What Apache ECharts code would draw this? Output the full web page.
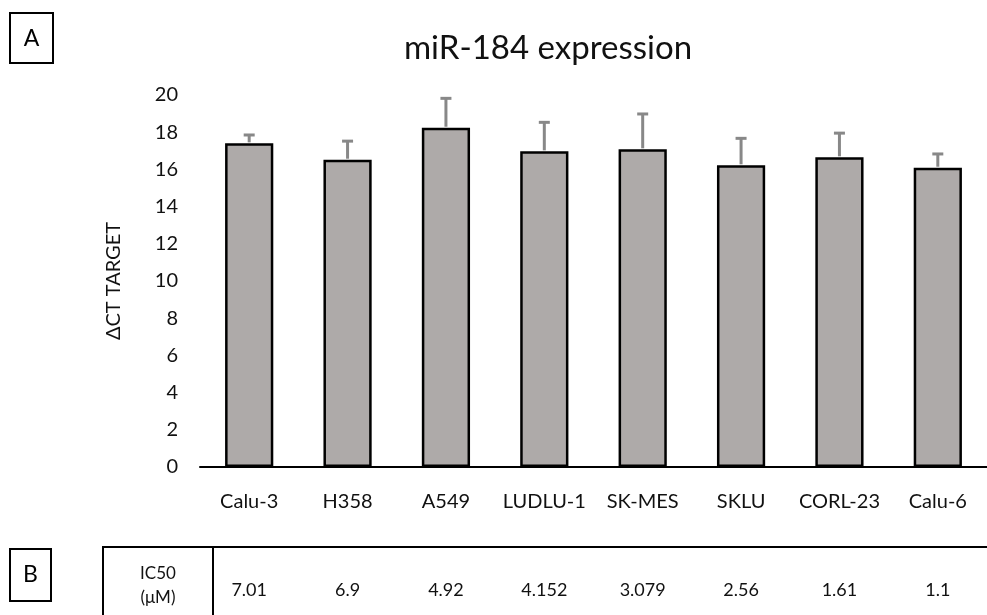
<!DOCTYPE html>
<html><head><meta charset="utf-8">
<script src="https://cdn.jsdelivr.net/npm/echarts@6/dist/echarts.min.js"></script>
<style>html,body{margin:0;padding:0;background:#fff}#c{width:987px;height:615px}</style>
</head><body><div id="c"></div>
<script>
const categories = ['Calu-3','H358','A549','LUDLU-1','SK-MES','SKLU','CORL-23','Calu-6'];
const deltaCT = [17.4, 16.52, 18.24, 16.97, 17.08, 16.22, 16.65, 16.09];
const errors = [0.45, 1.0, 1.58, 1.56, 1.9, 1.45, 1.3, 0.74];
const ic50 = ['7.01','6.9','4.92','4.152','3.079','2.56','1.61','1.1'];
const yTicks = [0,2,4,6,8,10,12,14,16,18,20];

const FONT = 'Lato, "Open Sans", sans-serif';
const chart = echarts.init(document.getElementById('c'), null, {renderer:'canvas'});
chart.setOption({
  animation:false,
  title:{text:'miR-184 expression', left:543, top:27, textAlign:'center',
    textStyle:{fontFamily:FONT, fontSize:33, fontWeight:'normal', color:'#111'}},
  grid:[{left:200, right:-6, top:95, height:372},
        {left:200, right:-6, top:589, height:1}],
  xAxis:[{type:'category', data:categories, gridIndex:0,
      axisLine:{lineStyle:{color:'#000', width:2}},
      axisTick:{show:false},
      axisLabel:{color:'#111', fontSize:20, fontFamily:FONT, margin:25, interval:0}},
    {type:'category', data:ic50, gridIndex:1,
      axisLine:{show:false}, axisTick:{show:false},
      axisLabel:{color:'#111', fontSize:18, fontFamily:FONT, margin:0, verticalAlign:'middle', interval:0}}],
  yAxis:[{type:'value', min:0, max:20, interval:2, gridIndex:0,
      name:'ΔCT TARGET', nameLocation:'middle', nameGap:76, nameRotate:90,
      nameTextStyle:{color:'#111', fontSize:20, fontFamily:FONT},
      axisLine:{show:false}, axisTick:{show:false}, splitLine:{show:false},
      axisLabel:{color:'#111', fontSize:20, fontFamily:FONT, margin:22,
        formatter:v=>yTicks.includes(v)?String(v):''}},
    {type:'value', gridIndex:1, show:false}],
  series:[{type:'bar', data:deltaCT, barWidth:'49%', xAxisIndex:0, yAxisIndex:0,
      itemStyle:{color:'#aeaaa9', borderColor:'#000', borderWidth:2.5}, z:2},
    {type:'custom', xAxisIndex:0, yAxisIndex:0, z:3,
      data:deltaCT.map((v,i)=>[i,v,errors[i]]),
      renderItem:function(params, api){
        const i=api.value(0), v=api.value(1), e=api.value(2);
        const p0=api.coord([i,v]); const p1=api.coord([i,v+e]);
        const cap=5.5;
        const st={stroke:'#888', lineWidth:3};
        return {type:'group', children:[
          {type:'line', shape:{x1:p0[0],y1:p0[1]-1,x2:p1[0],y2:p1[1]}, style:st},
          {type:'line', shape:{x1:p1[0]-cap,y1:p1[1],x2:p1[0]+cap,y2:p1[1]}, style:st}
        ]};
      }}],
  graphic:[
    {type:'rect', shape:{x:10,y:13,width:43,height:50}, style:{fill:'none', stroke:'#000', lineWidth:2}},
    {type:'text', x:31.5, y:39, style:{text:'A', fontSize:23, fontFamily:FONT, fill:'#000', align:'center', verticalAlign:'middle'}},
    {type:'rect', shape:{x:10,y:549,width:41,height:52}, style:{fill:'none', stroke:'#000', lineWidth:2}},
    {type:'text', x:30.5, y:575, style:{text:'B', fontSize:23, fontFamily:FONT, fill:'#000', align:'center', verticalAlign:'middle'}},
    {type:'line', shape:{x1:103,y1:547,x2:987,y2:547}, style:{stroke:'#000', lineWidth:2}},
    {type:'line', shape:{x1:103,y1:546,x2:103,y2:615}, style:{stroke:'#000', lineWidth:2}},
    {type:'line', shape:{x1:213,y1:546,x2:213,y2:615}, style:{stroke:'#000', lineWidth:2}},
    {type:'text', x:158, y:574, style:{text:'IC50', fontSize:17, fontFamily:FONT, fill:'#111', align:'center', verticalAlign:'middle'}},
    {type:'text', x:158, y:598, style:{text:'(μM)', fontSize:17, fontFamily:FONT, fill:'#111', align:'center', verticalAlign:'middle'}}
  ]
});
</script></body></html>
